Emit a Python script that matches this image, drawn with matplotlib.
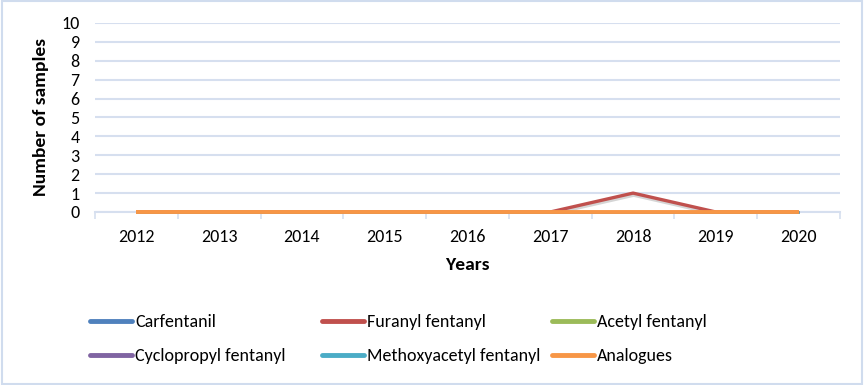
import matplotlib
matplotlib.use('Agg')
import matplotlib.pyplot as plt
import matplotlib.patheffects as pe
from matplotlib.patches import Rectangle
import numpy as np

years = ['2012', '2013', '2014', '2015', '2016', '2017', '2018', '2019', '2020']
carfentanil = [0, 0, 0, 0, 0, 0, 0, 0, 0]
furanyl = [0, 0, 0, 0, 0, 0, 1, 0, 0]
acetyl = [0, 0, 0, 0, 0, 0, 0, 0, 0]
cyclopropyl = [0, 0, 0, 0, 0, 0, 0, 0, 0]
methoxyacetyl = [0, 0, 0, 0, 0, 0, 0, 0, 0]
analogues = [0, 0, 0, 0, 0, 0, 0, 0, 0]

series = [
    ('Carfentanil', carfentanil, '#4F81BD'),
    ('Furanyl fentanyl', furanyl, '#C0504D'),
    ('Acetyl fentanyl', acetyl, '#9BBB59'),
    ('Cyclopropyl fentanyl', cyclopropyl, '#8064A2'),
    ('Methoxyacetyl fentanyl', methoxyacetyl, '#4BACC6'),
    ('Analogues', analogues, '#F79646'),
]

plt.rcParams['font.family'] = ['Carlito', 'Lato', 'DejaVu Sans']
grid_col = '#D6DFEF'

fig = plt.figure(figsize=(8.64, 3.85), dpi=100)
fig.patches.append(Rectangle((0.002, 0.003), 0.996, 0.994, transform=fig.transFigure,
                             fill=False, ec='#D0DCEE', lw=1.5))
ax = fig.add_axes([95 / 864, 1 - 212 / 385, 745 / 864, 189 / 385])

x = np.arange(len(years))
lines = []
for i, (name, vals, col) in enumerate(series):
    effects = None
    clip = False
    lw = 1.8  # lines hidden under the top one: keep them thinner to avoid fringes
    if name == 'Furanyl fentanyl':
        # soft shadow under the peak only (clipped at the axis)
        effects = [pe.SimpleLineShadow(offset=(0.5, -1.5), shadow_color='#888888', alpha=0.35),
                   pe.Normal()]
        clip = True
        lw = 2.4
    if i == len(series) - 1:
        lw = 2.8
    ln, = ax.plot(x, vals, color=col, lw=lw, label=name, path_effects=effects,
                  solid_capstyle='butt', clip_on=clip, zorder=3 + i)
    lines.append(ln)

ax.set_xlim(-0.5, len(years) - 0.5)
ax.set_ylim(0, 10)
ax.set_yticks(range(0, 11))
ax.set_xticks(x)
ax.set_xticklabels(years)
ax.set_xticks(np.arange(-0.5, len(years)), minor=True)
ax.tick_params(axis='x', which='major', length=0, labelsize=13, pad=12, colors='#000000')
ax.tick_params(axis='x', which='minor', length=5, color=grid_col, width=1.2)
ax.tick_params(axis='y', length=0, labelsize=13, pad=11)
for s in ['top', 'right', 'left']:
    ax.spines[s].set_visible(False)
ax.spines['bottom'].set_color(grid_col)
ax.spines['bottom'].set_linewidth(1.5)
ax.grid(axis='y', color=grid_col, lw=1.5)
ax.set_axisbelow(True)

ax.set_xlabel('Years', fontsize=14, fontweight='bold', labelpad=9)
ax.set_ylabel('Number of samples', fontsize=14, fontweight='bold', labelpad=9)

# legend: three columns of two entries, spaced like the original
col_x = [90 / 864, 322 / 864, 552 / 864]
for i, cx in enumerate(col_x):
    hs = [lines[i], lines[i + 3]]
    leg = fig.legend(hs, [h.get_label() for h in hs], loc='upper left',
                     bbox_to_anchor=(cx, 1 - 314 / 385), frameon=False, fontsize=13,
                     handlelength=2.3, handletextpad=0.2, borderpad=0, borderaxespad=0,
                     labelspacing=1.0)
    for lh in leg.get_lines():
        lh.set_linewidth(3.5)
        lh.set_solid_capstyle('round')
        lh.set_path_effects([])

fig.savefig('out.png', dpi=100)
